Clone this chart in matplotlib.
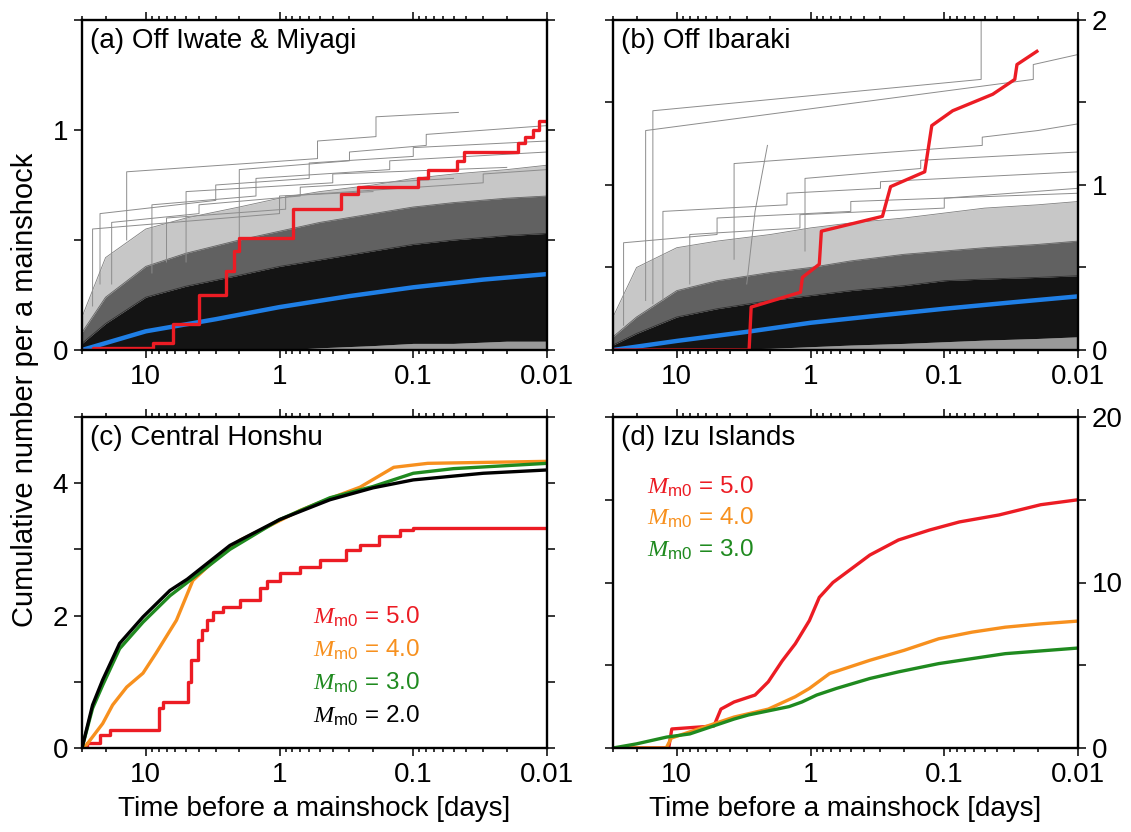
import matplotlib
matplotlib.use("Agg")
import matplotlib.pyplot as plt
from matplotlib.ticker import LogLocator, NullFormatter, FixedLocator

plt.rcParams['font.family'] = ['Liberation Sans', 'DejaVu Sans']
plt.rcParams['mathtext.fontset'] = 'custom'
plt.rcParams['mathtext.rm'] = 'Liberation Sans'
plt.rcParams['mathtext.it'] = 'Liberation Serif:italic'

# ---- data (days before mainshock, cumulative number) ----
t_grid = [30, 20, 10, 5, 2, 1, 0.5, 0.2, 0.1, 0.05, 0.02, 0.01]
a_floor = [0, 0, 0, 0, 0, 0, 0.01, 0.02, 0.03, 0.03, 0.04, 0.04]
a_core = [0.03, 0.12, 0.24, 0.29, 0.34, 0.38, 0.41, 0.45, 0.48, 0.5, 0.52, 0.53]
a_mid = [0.08, 0.24, 0.38, 0.44, 0.5, 0.54, 0.58, 0.62, 0.65, 0.67, 0.69, 0.7]
a_outer = [0.15, 0.42, 0.55, 0.6, 0.65, 0.69, 0.72, 0.75, 0.78, 0.8, 0.82, 0.84]

b_floor = [0, 0, 0, 0.005, 0.01, 0.02, 0.03, 0.04, 0.05, 0.06, 0.07, 0.08]
b_core = [0.03, 0.1, 0.2, 0.25, 0.3, 0.33, 0.36, 0.39, 0.42, 0.43, 0.44, 0.45]
b_mid = [0.08, 0.2, 0.36, 0.42, 0.47, 0.5, 0.54, 0.58, 0.6, 0.62, 0.64, 0.66]
b_outer = [0.2, 0.5, 0.62, 0.66, 0.7, 0.74, 0.77, 0.8, 0.83, 0.86, 0.88, 0.9]

# a few individual sequences that stand out above the bulk
a_others = [
    ([13.9, 13.9, 0.52, 0.52, 0.19, 0.19, 0.046], [0.5, 0.81, 0.87, 0.95, 0.97, 1.06, 1.08]),
    ([2.0, 2.0, 0.3, 0.3, 0.08, 0.08, 0.01], [0.45, 0.82, 0.86, 0.9, 0.93, 0.98, 1.02]),
    ([22, 22, 3, 3, 0.6, 0.6, 0.1, 0.1, 0.01], [0.3, 0.62, 0.68, 0.75, 0.78, 0.85, 0.88, 0.92, 0.95]),
    ([9, 9, 1.5, 1.5, 0.15, 0.15, 0.01], [0.35, 0.66, 0.7, 0.78, 0.82, 0.86, 0.9]),
    ([5, 5, 0.4, 0.4, 0.02], [0.4, 0.72, 0.76, 0.8, 0.83]),
    ([25, 25, 1.0, 1.0, 0.2], [0.2, 0.55, 0.62, 0.7, 0.72]),
    ([18, 18, 4, 4, 0.7, 0.7, 0.05], [0.3, 0.58, 0.62, 0.66, 0.7, 0.74, 0.78]),
    ([7, 7, 0.9, 0.9, 0.03, 0.03, 0.01], [0.4, 0.6, 0.64, 0.7, 0.76, 0.8, 0.82]),
]
b_others = [
    ([15.1, 15.1, 0.053, 0.053], [0.28, 1.45, 1.64, 2.05]),
    ([17.1, 17.1, 0.0216, 0.0216, 0.0101], [0.3, 1.33, 1.64, 1.73, 1.79]),
    ([3.73, 3.73, 0.052, 0.052, 0.02, 0.0101], [0.55, 1.13, 1.24, 1.29, 1.33, 1.37]),
    ([3.0, 2.6, 2.1], [0.4, 0.84, 1.24]),
    ([1.1, 1.1, 0.15, 0.15, 0.01], [0.6, 1.04, 1.1, 1.15, 1.2]),
    ([12.7, 12.7, 1.5, 1.5, 0.3, 0.3, 0.01], [0.3, 0.84, 0.88, 0.95, 0.98, 1.02, 1.08]),
    ([25, 25, 5, 5, 0.5, 0.5, 0.01], [0.15, 0.65, 0.7, 0.8, 0.84, 0.9, 0.95]),
    ([8, 8, 1.2, 1.2, 0.1, 0.1, 0.01], [0.4, 0.7, 0.74, 0.82, 0.86, 0.92, 0.98]),
]

a_red_t = [30, 25, 8.9, 6.3, 4.0, 2.5, 2.2, 2.0, 0.79, 0.35, 0.26, 0.092, 0.078,
           0.047, 0.042, 0.0166, 0.0145, 0.0127, 0.0115, 0.01]
a_red_y = [0, 0.01, 0.03, 0.12, 0.25, 0.36, 0.45, 0.51, 0.64, 0.71, 0.74, 0.78, 0.82,
           0.86, 0.90, 0.94, 0.97, 1.0, 1.04, 1.04]
a_blue_t = [30, 10, 3, 1, 0.3, 0.1, 0.03, 0.01]
a_blue_y = [0, 0.085, 0.14, 0.195, 0.245, 0.285, 0.32, 0.345]

b_red_t = [30, 2.88, 2.78, 1.19, 1.15, 0.86, 0.83, 0.29, 0.252, 0.14, 0.124, 0.0865,
           0.0434, 0.0297, 0.0286, 0.0203]
b_red_y = [0, 0, 0.26, 0.35, 0.44, 0.52, 0.72, 0.81, 0.99, 1.08, 1.36, 1.45,
           1.55, 1.64, 1.73, 1.81]
b_blue_t = [30, 10, 3, 1, 0.3, 0.1, 0.03, 0.01]
b_blue_y = [0, 0.055, 0.11, 0.165, 0.21, 0.25, 0.29, 0.325]

c_black_t = [30, 25, 21, 15.7, 10.5, 6.6, 4.9, 2.35, 1, 0.42, 0.2, 0.1, 0.03, 0.01]
c_black_y = [0, 0.65, 1.03, 1.58, 1.98, 2.38, 2.55, 3.06, 3.45, 3.75, 3.93, 4.05, 4.15, 4.2]
c_green_t = [30, 25, 21, 15.7, 10.5, 6.6, 4.9, 2.35, 1, 0.42, 0.2, 0.1, 0.05, 0.01]
c_green_y = [0, 0.6, 0.95, 1.5, 1.9, 2.3, 2.5, 3.0, 3.45, 3.78, 3.95, 4.15, 4.22, 4.3]
c_orange_t = [30, 27.7, 21, 17.7, 13.9, 10.5, 8.4, 5.9, 4.45, 3.05, 1.97, 1.18, 0.7,
              0.42, 0.25, 0.14, 0.078, 0.01]
c_orange_y = [0, 0.05, 0.37, 0.65, 0.92, 1.13, 1.43, 1.93, 2.53, 2.84, 3.14, 3.36, 3.59,
              3.77, 3.94, 4.24, 4.3, 4.33]
c_red_t = [30, 27.7, 22, 18.6, 8.0, 7.5, 4.8, 4.6, 4.1, 3.8, 3.5, 3.15, 2.65, 1.97, 1.4,
           1.25, 1.0, 0.7, 0.5, 0.32, 0.25, 0.18, 0.125, 0.1, 0.01]
c_red_y = [0, 0.07, 0.2, 0.27, 0.6, 0.7, 1.0, 1.33, 1.63, 1.78, 1.93, 2.05, 2.13, 2.23, 2.41,
           2.53, 2.65, 2.73, 2.84, 2.99, 3.06, 3.2, 3.29, 3.33, 3.33]

d_green_t = [30, 20, 11.9, 8, 3.73, 2.9, 1.45, 1.16, 0.9, 0.64, 0.36, 0.22, 0.11, 0.035, 0.01]
d_green_y = [0, 0.25, 0.66, 0.85, 1.75, 2.0, 2.5, 2.78, 3.2, 3.6, 4.2, 4.6, 5.1, 5.7, 6.04]
d_orange_t = [30, 12, 11, 3.73, 2.07, 1.3, 1.02, 0.72, 0.36, 0.2, 0.11, 0.062, 0.035, 0.019, 0.01]
d_orange_y = [0, 0, 0.6, 1.87, 2.35, 3.1, 3.6, 4.5, 5.3, 5.9, 6.6, 7.0, 7.3, 7.5, 7.67]
d_red_t = [30, 11.5, 10.9, 5.28, 4.68, 3.73, 2.6, 2.07, 1.63, 1.3, 1.02, 0.86, 0.68, 0.51,
           0.36, 0.22, 0.129, 0.077, 0.039, 0.019, 0.01]
d_red_y = [0, 0, 1.15, 1.33, 2.35, 2.78, 3.2, 4.0, 5.26, 6.3, 7.7, 9.1, 10.0, 10.75,
           11.66, 12.57, 13.17, 13.66, 14.08, 14.7, 15.0]

RED = '#ec1c24'
BLUE = '#1f7fe6'
ORANGE = '#f7901e'
GREEN = '#1f8a1f'
FS = 20

fig = plt.figure(figsize=(11.31, 8.32), dpi=100)
W, H = 1131.0, 832.0


def make_ax(x0, x1, y0, y1):
    return fig.add_axes([x0 / W, 1 - y1 / H, (x1 - x0) / W, (y1 - y0) / H])


def style(ax, ymax, major, minor, side):
    ax.set_xscale('log')
    ax.set_xlim(30, 0.01)
    ax.set_ylim(0, ymax)
    ax.set_xticks([10, 1, 0.1, 0.01])
    ax.set_xticklabels(['10', '1', '0.1', '0.01'])
    ax.xaxis.set_minor_locator(LogLocator(base=10, subs=range(2, 10), numticks=20))
    ax.xaxis.set_minor_formatter(NullFormatter())
    ax.yaxis.set_major_locator(FixedLocator(major))
    ax.yaxis.set_minor_locator(FixedLocator(minor))
    ax.tick_params(which='both', direction='out', top=True, right=True,
                   bottom=True, left=True, width=1.1, labelsize=FS, pad=4)
    ax.tick_params(axis='x', which='major', length=6)
    ax.tick_params(axis='x', which='minor', length=3)
    ax.tick_params(axis='y', which='both', length=6)
    if side == 'right':
        ax.tick_params(axis='y', labelleft=False, labelright=True)
    for s in ax.spines.values():
        s.set_linewidth(1.7)


def band(ax, lo, c1, c2, c3):
    ax.fill_between(t_grid, 0, lo, color='k', alpha=0.4, lw=0)
    ax.fill_between(t_grid, lo, c1, color='k', alpha=0.92, lw=0)
    ax.fill_between(t_grid, c1, c2, color='k', alpha=0.62, lw=0)
    ax.fill_between(t_grid, c2, c3, color='k', alpha=0.22, lw=0)
    for edge in (c1, c2, c3):
        ax.plot(t_grid, edge, color='k', lw=0.6, alpha=0.5)


# (a)
ax = make_ax(82, 547, 20, 350)
band(ax, a_floor, a_core, a_mid, a_outer)
for tt, yy in a_others:
    ax.plot(tt, yy, color='0.55', lw=0.7)
ax.plot(a_blue_t, a_blue_y, color=BLUE, lw=3.2, solid_capstyle='round')
ax.plot(a_red_t, a_red_y, color=RED, lw=2.4, drawstyle='steps-post')
style(ax, 1.5, [0, 1], [0.5, 1.5], 'left')
ax.text(0.018, 0.975, '(a) Off Iwate & Miyagi', transform=ax.transAxes,
        ha='left', va='top', fontsize=FS)

# (b)
ax = make_ax(613, 1078, 20, 350)
band(ax, b_floor, b_core, b_mid, b_outer)
for tt, yy in b_others:
    ax.plot(tt, yy, color='0.55', lw=0.7)
ax.plot(b_blue_t, b_blue_y, color=BLUE, lw=3.2, solid_capstyle='round')
ax.plot(b_red_t, b_red_y, color=RED, lw=2.4)
style(ax, 2, [0, 1, 2], [0.5, 1.5], 'right')
ax.text(0.018, 0.975, '(b) Off Ibaraki', transform=ax.transAxes,
        ha='left', va='top', fontsize=FS)

# (c)
ax = make_ax(82, 547, 417, 748)
ax.plot(c_red_t, c_red_y, color=RED, lw=2.4, drawstyle='steps-post')
ax.plot(c_orange_t, c_orange_y, color=ORANGE, lw=2.4)
ax.plot(c_green_t, c_green_y, color=GREEN, lw=2.4)
ax.plot(c_black_t, c_black_y, color='k', lw=2.4)
style(ax, 5, [0, 2, 4], [1, 3, 5], 'left')
ax.text(0.018, 0.975, '(c) Central Honshu', transform=ax.transAxes,
        ha='left', va='top', fontsize=FS)
for i, (lab, col) in enumerate([('5.0', RED), ('4.0', ORANGE), ('3.0', GREEN), ('2.0', 'k')]):
    ax.text(0.497, 0.396 - 0.1 * i, r'$M_{\mathrm{m0}}$ = ' + lab, color=col,
            transform=ax.transAxes, ha='left', va='center', fontsize=17.5)
ax.set_xlabel('Time before a mainshock [days]', fontsize=FS, labelpad=6)

# (d)
ax = make_ax(613, 1078, 417, 748)
ax.plot(d_red_t, d_red_y, color=RED, lw=2.4)
ax.plot(d_orange_t, d_orange_y, color=ORANGE, lw=2.4)
ax.plot(d_green_t, d_green_y, color=GREEN, lw=2.4)
style(ax, 20, [0, 10, 20], [5, 15], 'right')
ax.text(0.018, 0.975, '(d) Izu Islands', transform=ax.transAxes,
        ha='left', va='top', fontsize=FS)
for i, (lab, col) in enumerate([('5.0', RED), ('4.0', ORANGE), ('3.0', GREEN)]):
    ax.text(0.073, 0.789 - 0.095 * i, r'$M_{\mathrm{m0}}$ = ' + lab, color=col,
            transform=ax.transAxes, ha='left', va='center', fontsize=17.5)
ax.set_xlabel('Time before a mainshock [days]', fontsize=FS, labelpad=6)

fig.text(0.022, 0.531, 'Cumulative number per a mainshock', rotation=90,
         ha='center', va='center', fontsize=21)

fig.savefig('out.png', dpi=100)
